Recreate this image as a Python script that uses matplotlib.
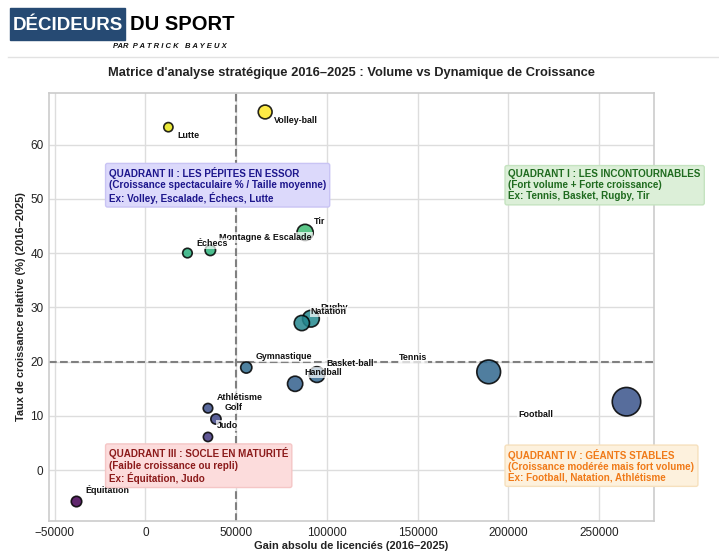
import matplotlib.pyplot as plt
import numpy as np

# --- données ---
sports = ["Volley-ball", "Lutte", "Montagne & Escalade", "Échecs", "Tir",
          "Rugby", "Natation", "Gymnastique", "Basket-ball", "Handball",
          "Athlétisme", "Golf", "Judo", "Équitation", "Tennis", "Football"]
gain_absolu = [66000, 12700, 35800, 23200, 88000,
               91200, 86200, 55600, 94500, 82500,
               34500, 38900, 34500, -37900, 189100, 265000]
taux_croissance = [66.0, 63.2, 40.5, 40.0, 43.8,
                   27.9, 27.1, 18.9, 17.6, 15.9,
                   11.4, 9.4, 6.1, -5.8, 18.1, 12.6]
# poids relatif des bulles (volume de licenciés)
poids_bulle = [99, 44, 57, 47, 136,
               146, 120, 65, 129, 120,
               47, 54, 44, 57, 293, 421]

seuil_gain = 50000
seuil_taux = 20

quadrants = [
    ("QUADRANT I : LES INCONTOURNABLES\n(Fort volume + Forte croissance)\nEx: Tennis, Basket, Rugby, Tir",
     200000, 52.5, "#1f6b1f", "#dcefd8", "#c5e3c0"),
    ("QUADRANT II : LES PÉPITES EN ESSOR\n(Croissance spectaculaire % / Taille moyenne)\nEx: Volley, Escalade, Échecs, Lutte",
     -20000, 52.5, "#1d168c", "#dcd9fb", "#c9c4f4"),
    ("QUADRANT III : SOCLE EN MATURITÉ\n(Faible croissance ou repli)\nEx: Équitation, Judo",
     -20000, 0.8, "#8b1a1a", "#fcdcdc", "#f5c6c6"),
    ("QUADRANT IV : GÉANTS STABLES\n(Croissance modérée mais fort volume)\nEx: Football, Natation, Athlétisme",
     200000, 0.8, "#f07a18", "#fdf1dd", "#f6e0bd"),
]

# décalages des étiquettes (points) ; par défaut en haut à droite
decalage_defaut = (6.5, 8)
decalages = {"Volley-ball": (6.5, -6), "Lutte": (6.5, -6), "Échecs": (6.5, 7),
             "Montagne & Escalade": (6.5, 9),
             "Tennis": (-65, 10), "Football": (-78, -9.5)}

plt.rcParams['font.family'] = ['Liberation Sans', 'DejaVu Sans']

fig = plt.figure(figsize=(7.19, 5.6), dpi=100)
W, H = 719, 560

# --- en-tête ---
fig.patches.append(plt.Rectangle((10 / W, 1 - 40 / H), 115 / W, 32 / H,
                                 transform=fig.transFigure, color="#264a73"))
fig.text(67.5 / W, 1 - 25 / H, "DÉCIDEURS", color="white", fontsize=13.5, fontweight="bold",
         ha="center", va="center")
fig.text(130 / W, 1 - 25 / H, "DU SPORT", color="black", fontsize=14.5, fontweight="bold",
         ha="left", va="center")
fig.text(113 / W, 1 - 47 / H, "PAR  P A T R I C K   B A Y E U X", color="#111111",
         fontsize=5.5, fontweight="bold", fontstyle="italic", ha="left", va="center")
fig.add_artist(plt.Line2D([8 / W, 1], [1 - 57 / H, 1 - 57 / H], color="#e2e2e2", lw=1,
                          transform=fig.transFigure))

fig.text(352 / W, 1 - 73 / H,
         "Matrice d'analyse stratégique 2016–2025 : Volume vs Dynamique de Croissance",
         fontsize=9.3, fontweight="bold", ha="center", va="center", color="#222222")

ax = fig.add_axes([49 / W, 1 - 521 / H, 605 / W, 428.5 / H])
ax.set_axisbelow(True)
ax.grid(True, color="#dddddd", lw=1)
for sp in ax.spines.values():
    sp.set_color("#cccccc")
    sp.set_linewidth(1.2)
ax.tick_params(length=0, labelsize=8.5, labelcolor="#222222", pad=4)

x = np.array(gain_absolu)
y = np.array(taux_croissance)
ax.scatter(x, y, s=np.array(poids_bulle) * 1.0, c=y, cmap="viridis", alpha=0.85,
           edgecolors="black", linewidths=1.2, zorder=3)

ax.axvline(seuil_gain, color="#808080", ls="--", lw=1.5, zorder=2)
ax.axhline(seuil_taux, color="#808080", ls="--", lw=1.5, zorder=2)

for nom, xi, yi in zip(sports, x, y):
    dx, dy = decalages.get(nom, decalage_defaut)
    ax.annotate(nom, (xi, yi), xytext=(dx, dy), textcoords="offset points",
                ha="left", va="center", fontsize=6.4, fontweight="bold", color="#111111",
                bbox=dict(boxstyle="square,pad=0.1", fc="white", ec="none", alpha=0.7),
                zorder=4)

for texte, qx, qy, tc, fc, ec in quadrants:
    ax.text(qx, qy, texte, color=tc, fontsize=7.1, fontweight="bold", ha="left", va="center",
            linespacing=1.15, clip_on=False, zorder=5,
            bbox=dict(boxstyle="round,pad=0.35,rounding_size=0.2", fc=fc, ec=ec, lw=1))

ax.set_xlabel("Gain absolu de licenciés (2016–2025)", fontsize=7.9, fontweight="bold",
              color="#222222", labelpad=2)
ax.set_ylabel("Taux de croissance relative (%) (2016–2025)", fontsize=7.9, fontweight="bold",
              color="#222222", labelpad=3)

fig.savefig("out.png", dpi=100)
